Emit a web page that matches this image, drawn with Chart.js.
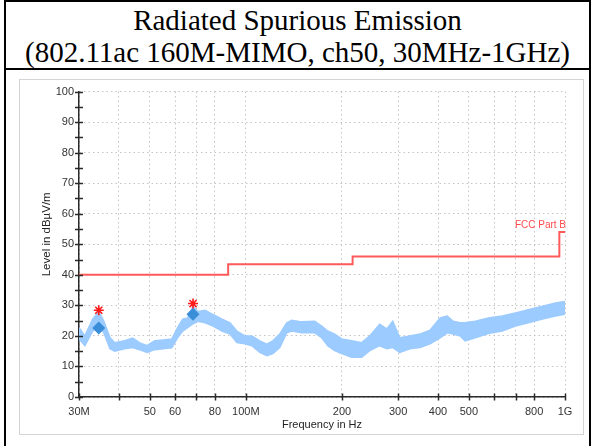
<!DOCTYPE html>
<html>
<head>
<meta charset="utf-8">
<script src="https://cdn.jsdelivr.net/npm/chart.js@4"></script>
<style>
  html, body { margin: 0; padding: 0; background: #fff; }
  body { width: 593px; height: 446px; position: relative; overflow: hidden; }
  #frame { position: absolute; left: 4px; top: 0; width: 583px; height: 450px;
           border-left: 2px solid #000; border-right: 2px solid #000; border-top: 2px solid #000; }
  #title { position: absolute; left: 0; top: 0; width: 583px; height: 68px;
           border-bottom: 2px solid #000; text-align: center;
           font-family: "Liberation Serif", "Times New Roman", serif; font-size: 29px; line-height: 32px; color: #000; padding-top: 2px; box-sizing: border-box; }
  #box { position: absolute; left: 19px; top: 79px; width: 563px; height: 354px; border: 1px solid #d4d4d4; }
  canvas { display: block; }
</style>
</head>
<body>
<div id="frame"><div id="title">Radiated Spurious Emission<br>(802.11ac 160M-MIMO, ch50, 30MHz-1GHz)</div></div>
<div id="box"><canvas id="c" width="563" height="354"></canvas></div>
<script>
// ---- data (frequencies in MHz, levels in dBµV/m) ----
const traceFreqMHz = [30, 31.3, 33.1, 34.6, 35.9, 37.5, 38.8, 41.7, 44.2, 46.4, 49.0, 51.8, 55.0, 58.6, 61.1, 63.4, 65.7, 68.3, 70.8, 74.5, 78.9, 84.2, 89.2, 93.7, 99.3, 104.4, 110.6, 116.3, 121.5, 127.7, 134.3, 139.3, 149.6, 164.3, 172.8, 180.5, 189.8, 199.6, 214.6, 230.7, 244.4, 262.7, 276.3, 288.6, 303.6, 326.4, 351.2, 377.7, 406.2, 427.3, 446.3, 469.5, 486.5, 523.3, 574.9, 635.9, 698.8, 767.9, 849.7, 933.8, 1000];
const traceUpper = [22.7, 20, 25.5, 28, 24.8, 19.5, 17.8, 18.4, 19.3, 17.8, 16.8, 18.4, 18.7, 19, 22.7, 25.5, 25.9, 29.7, 28, 28.4, 27, 25.5, 24.3, 21.6, 20, 20, 18.4, 17.3, 18.4, 20.6, 24.3, 25.1, 24.6, 24.8, 23.2, 21.6, 20.6, 19, 18.4, 17.8, 20, 23.8, 22.3, 24.8, 19.4, 20, 20.6, 21.9, 25.9, 26.5, 24.8, 24.3, 24.3, 24.8, 25.9, 26.5, 27.5, 28.6, 29.7, 30.8, 31.3];
const traceLower = [19, 16.8, 21.6, 23, 21, 15.8, 15, 15.8, 16.2, 15.5, 14.6, 15.5, 15.8, 16.1, 19.4, 21.6, 22.7, 24, 24.8, 24.3, 23.2, 21.6, 20.6, 17.8, 17.4, 16.8, 14.6, 13.5, 14.2, 16.2, 21, 21.6, 21, 21, 19.4, 16.8, 15.2, 14.2, 13, 13, 15.2, 16.8, 15.8, 16.2, 14.6, 15.8, 16.2, 17.4, 19.4, 21, 20.6, 20, 18.4, 19.4, 20.8, 21.6, 23.2, 24.3, 25.5, 26.5, 27.1];
const limitFreqMHz = [30, 88, 88, 216, 216, 960, 960, 1000];
const limitLevel = [40, 40, 43.5, 43.5, 46, 46, 54, 54];
const limitName = 'FCC Part B';
const peakFreqMHz = [34.6, 68.3];
const peakLevel = [28.4, 30.6];
const qpFreqMHz = [34.6, 68.3];
const qpLevel = [22.6, 27.1];
const xTickMHz = [30, 40, 50, 60, 70, 80, 100, 200, 300, 400, 500, 600, 700, 800, 1000];
const xTickLabels = ['30M', '', '50', '60', '', '80', '100M', '200', '300', '400', '500', '', '', '800', '1G'];
const yMin = 0, yMax = 100, yStep = 5;
const xTitle = 'Frequency in Hz';
const yTitle = 'Level in dBµV/m';

const pts = (xs, ys) => xs.map((x, i) => ({ x: x, y: ys[i] }));
const TRACE = '#9ccbff';
const AXIS = '#2a2a2a';
const FONT = '"Liberation Sans", Arial, sans-serif';

const decor = {
  id: 'decor',
  afterDraw(chart) {
    const ctx = chart.ctx, xs = chart.scales.x, ys = chart.scales.y;
    const x0 = xs.left, y0 = ys.bottom;
    ctx.save();
    ctx.strokeStyle = AXIS; ctx.lineWidth = 1.5;
    ctx.beginPath();
    for (let v = yMin; v <= yMax; v += yStep) {
      const py = Math.round(ys.getPixelForValue(v)) + 0.5;
      ctx.moveTo(x0 - 4, py); ctx.lineTo(x0 + 4, py);
    }
    xTickMHz.forEach(v => {
      const px = Math.round(xs.getPixelForValue(v)) + 0.5;
      ctx.moveTo(px, y0 - 3.5); ctx.lineTo(px, y0 + 3.5);
    });
    ctx.stroke();
    // limit label
    const lx = xs.getPixelForValue(limitFreqMHz[limitFreqMHz.length - 1]);
    const ly = ys.getPixelForValue(limitLevel[limitLevel.length - 1]);
    ctx.fillStyle = '#ff4d4d';
    ctx.font = '10px ' + FONT;
    ctx.textAlign = 'right'; ctx.textBaseline = 'bottom';
    ctx.fillText(limitName, lx + 1, ly - 2);
    // y axis title
    ctx.fillStyle = '#222';
    ctx.font = '11.5px ' + FONT;
    ctx.translate(27, (ys.top + ys.bottom) / 2 - 10);
    ctx.rotate(-Math.PI / 2);
    ctx.textAlign = 'center'; ctx.textBaseline = 'middle';
    ctx.fillText(yTitle, 0, 0);
    ctx.restore();
  }
};

new Chart(document.getElementById('c'), {
  type: 'line',
  data: {
    datasets: [
      { data: pts(peakFreqMHz, peakLevel), showLine: false, pointStyle: 'star', pointRadius: 5,
        borderColor: '#ff1a1a', backgroundColor: '#ff1a1a', pointBorderWidth: 1.6, order: 0 },
      { data: pts(qpFreqMHz, qpLevel), showLine: false, pointStyle: 'rectRot', pointRadius: 6.5,
        borderColor: '#3a8ed8', backgroundColor: '#3a8ed8', pointBorderWidth: 0, order: 1 },
      { data: pts(limitFreqMHz, limitLevel), borderColor: '#ff5a5a', borderWidth: 2, pointRadius: 0,
        tension: 0, fill: false, order: 2 },
      { data: pts(traceFreqMHz, traceUpper), borderColor: TRACE, backgroundColor: TRACE, borderWidth: 1.5,
        pointRadius: 0, tension: 0, fill: '+1', order: 3 },
      { data: pts(traceFreqMHz, traceLower), borderColor: TRACE, backgroundColor: TRACE, borderWidth: 1.5,
        pointRadius: 0, tension: 0, fill: false, order: 4 }
    ]
  },
  options: {
    responsive: false,
    animation: false,
    events: [],
    layout: { padding: { left: 0, right: 18, top: 7, bottom: 0 } },
    plugins: { legend: { display: false }, tooltip: { enabled: false } },
    scales: {
      x: {
        type: 'logarithmic', min: 30, max: 1000,
        afterBuildTicks: s => { s.ticks = xTickMHz.map(v => ({ value: v })); },
        afterFit: s => { s.height = 37; },
        ticks: {
          autoSkip: false, maxRotation: 0, padding: 8, color: '#333',
          font: { family: FONT, size: 11 },
          callback: (v, i) => xTickLabels[i]
        },
        grid: { color: '#c4c4c4', lineWidth: 1, drawTicks: false },
        border: { display: true, color: AXIS, width: 1.5, dash: [1.5, 3] },
        title: { display: true, text: xTitle, color: '#222', padding: { top: 0, bottom: 2 },
          font: { family: FONT, size: 11 } }
      },
      y: {
        min: yMin, max: yMax,
        afterFit: s => { s.width = 59; },
        ticks: {
          stepSize: yStep, padding: 5, color: '#333',
          font: { family: FONT, size: 11 },
          callback: v => (v % 10 === 0 ? String(v) : '')
        },
        grid: { color: '#c4c4c4', lineWidth: 1, drawTicks: false },
        border: { display: true, color: AXIS, width: 1.5, dash: [1.5, 3] },
        title: { display: false }
      }
    }
  },
  plugins: [decor]
});
</script>
</body>
</html>
